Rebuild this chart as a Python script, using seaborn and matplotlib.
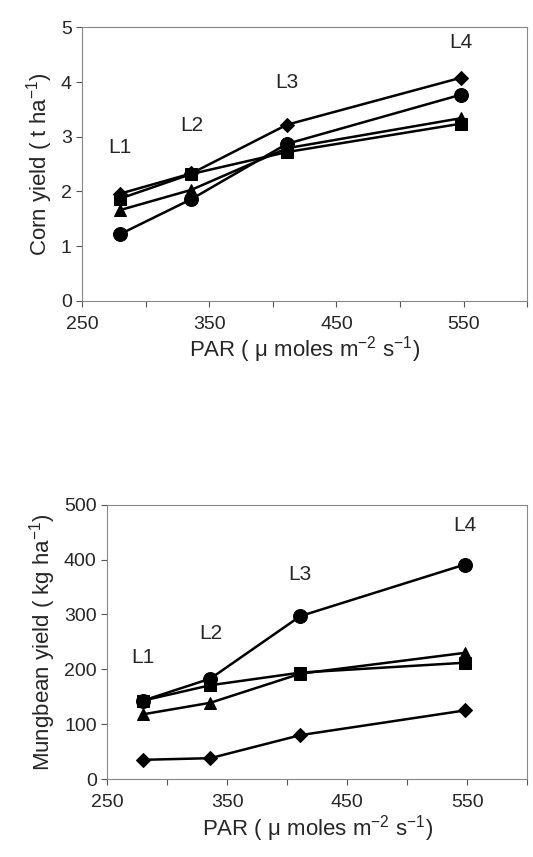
import pandas as pd
import matplotlib.pyplot as plt
import seaborn as sns
from matplotlib.ticker import MultipleLocator, FixedLocator

# PAR level of each light treatment (x positions)
par = [280, 336, 411, 548]
levels = ['L1', 'L2', 'L3', 'L4']

# Corn yield (t/ha) per series
corn_diamond = [1.96, 2.33, 3.22, 4.08]
corn_circle = [1.22, 1.86, 2.87, 3.77]
corn_triangle = [1.66, 2.03, 2.79, 3.34]
corn_square = [1.87, 2.32, 2.72, 3.24]

# Mungbean yield (kg/ha) per series
mung_circle = [143, 183, 297, 391]
mung_square = [143, 171, 194, 212]
mung_triangle = [118, 139, 192, 230]
mung_diamond = [35, 38, 80, 125]

# label positions for L1..L4 annotations
corn_lab_y = [2.8, 3.2, 4.0, 4.72]
mung_lab_y = [222, 266, 372, 463]

sns.set_style('white')
plt.rcParams['font.family'] = ['Liberation Sans', 'DejaVu Sans']
plt.rcParams['mathtext.fontset'] = 'custom'
plt.rcParams['mathtext.rm'] = 'Liberation Sans'
plt.rcParams['mathtext.it'] = 'Liberation Sans'


def long_form(series):
    rows = []
    for name, vals in series.items():
        for x, v in zip(par, vals):
            rows.append({'PAR': x, 'yield': v, 'series': name})
    return pd.DataFrame(rows)


corn = long_form({'diamond': corn_diamond, 'circle': corn_circle,
                  'triangle': corn_triangle, 'square': corn_square})
mung = long_form({'circle': mung_circle, 'square': mung_square,
                  'triangle': mung_triangle, 'diamond': mung_diamond})

markers = {'diamond': 'D', 'circle': 'o', 'triangle': '^', 'square': 's'}
sizes = {'diamond': 7, 'circle': 10, 'triangle': 9, 'square': 9}

fig = plt.figure(figsize=(5.33, 8.57), dpi=100)
ax1 = fig.add_axes([0.154, 0.649, 0.835, 0.319])
ax2 = fig.add_axes([0.201, 0.091, 0.788, 0.320])


def draw(ax, df, ylim, ystep, ylabel, lab_y):
    for name in df['series'].unique():
        sub = df[df['series'] == name]
        sns.lineplot(data=sub, x='PAR', y='yield', ax=ax, color='black',
                     marker=markers[name], markersize=sizes[name],
                     markeredgecolor='black', linewidth=1.8, legend=False)
    for x, y, t in zip(par, lab_y, levels):
        ax.text(x, y, t, ha='center', va='center', fontsize=15)
    ax.set_xlim(250, 600)
    ax.set_ylim(*ylim)
    ax.xaxis.set_major_locator(FixedLocator([250, 350, 450, 550]))
    ax.xaxis.set_minor_locator(FixedLocator([300, 400, 500, 600]))
    ax.yaxis.set_major_locator(MultipleLocator(ystep))
    ax.tick_params(which='both', direction='out', length=4, width=0.8,
                   color='#555555', labelsize=14, bottom=True, left=True)
    ax.tick_params(axis='x', pad=7)
    for s in ax.spines.values():
        s.set_color('#888888')
        s.set_linewidth(0.8)
    ax.set_xlabel(r'PAR ( $\mathrm{\mu}$ moles m$^{-2}$ s$^{-1}$)', fontsize=16,
                  labelpad=1)
    ax.set_ylabel(ylabel, fontsize=16)


draw(ax1, corn, (0, 5), 1, r'Corn yield ( t ha$^{-1}$)', corn_lab_y)
draw(ax2, mung, (0, 500), 100, r'Mungbean yield ( kg ha$^{-1}$)', mung_lab_y)

fig.savefig('out.png', dpi=100)
